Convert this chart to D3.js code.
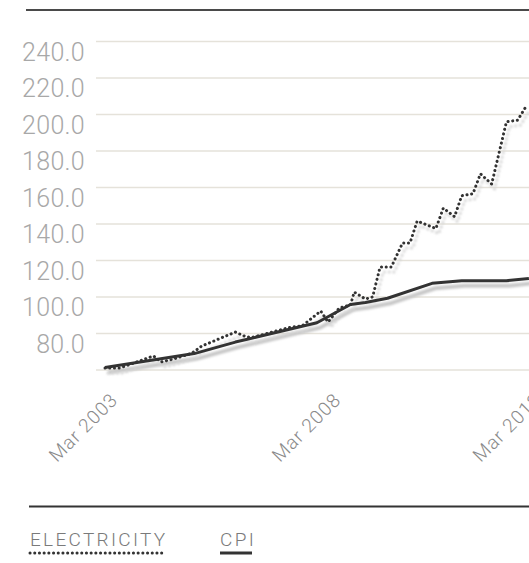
<!DOCTYPE html>
<html>
<head>
<meta charset="utf-8">
<title>Electricity vs CPI</title>
<style>
  body { margin: 0; background: #fff; }
  svg { display: block; font-family: Roboto, "Noto Sans", sans-serif; font-weight: 300; }
  .grid line { stroke: #e5e2da; stroke-width: 1.5px; }
  .ylab { fill: #a8a8a8; font-size: 25px; letter-spacing: 0.3px; }
  .xlab { fill: #8a8a8a; font-size: 19px; letter-spacing: 1px; }
  .leg { fill: #7a7a7a; font-size: 19px; letter-spacing: 2.3px; }
</style>
</head>
<body>
<svg id="chart"></svg>
<script src="https://d3js.org/d3.v7.min.js"></script>
<script>
// axis ticks (positions and labels as they sit on the chart)
const yTicks = [60, 80, 100, 120, 140, 160, 180, 200, 220, 240];
const xTickDates = ["2003-03", "2008-03", "2012-09"];
const xTickLabels = ["Mar 2003", "Mar 2008", "Mar 2013"];
const legendLabels = ["ELECTRICITY", "CPI"];

// electricity index
const elecDates = ["2003-03", "2003-07", "2004-04", "2004-06", "2004-09", "2005-02", "2005-03", "2005-05",
  "2006-02", "2006-05", "2006-07", "2007-05", "2007-08", "2008-01", "2008-03", "2008-06", "2008-09",
  "2008-10", "2009-01", "2009-03", "2009-05", "2009-08", "2009-11", "2010-01", "2010-03", "2010-08",
  "2010-10", "2011-01", "2011-03", "2011-06", "2011-08", "2011-11", "2012-03", "2012-06", "2012-08"];
const elecValues = [61.1, 61.1, 67.7, 64.4, 65.8, 69.0, 70.1, 73.1,
  80.8, 78.1, 78.1, 83.5, 84.1, 92.3, 86.3, 94.0, 95.6,
  102.7, 98.9, 100.0, 116.4, 116.4, 129.6, 129.6, 141.6, 137.5,
  148.7, 144.0, 155.5, 156.6, 167.5, 161.9, 196.0, 196.9, 203.6];

// CPI
const cpiDates = ["2003-03", "2005-03", "2006-02", "2007-12", "2008-09", "2009-01", "2009-07",
  "2010-07", "2011-03", "2012-03", "2012-09"];
const cpiValues = [61.4, 69.0, 75.3, 85.9, 95.9, 97.0, 99.3, 107.5, 108.9, 108.9, 110.2];

const W = 529, H = 563;
const parse = d3.timeParse("%Y-%m");

const svg = d3.select("#chart").attr("width", W).attr("height", H);

const x = d3.scaleTime()
  .domain([parse("2003-03"), parse("2013-03")])
  .range([105, 551]);
const y = d3.scaleLinear()
  .domain([60, 240])
  .range([370, 41.5]);

const defs = svg.append("defs");
defs.append("filter").attr("id", "blur")
  .attr("x", "-10%").attr("y", "-10%").attr("width", "120%").attr("height", "120%")
  .append("feGaussianBlur").attr("stdDeviation", 1.2);

// top rule
svg.append("line")
  .attr("x1", 26).attr("x2", W).attr("y1", 10).attr("y2", 10)
  .attr("stroke", "#4a4a4a").attr("stroke-width", 2);

// grid
svg.append("g").attr("class", "grid")
  .selectAll("line").data(yTicks).join("line")
  .attr("x1", 96).attr("x2", W)
  .attr("y1", d => y(d)).attr("y2", d => y(d));

// y labels hang under their grid line, bottom one has none
svg.append("g").selectAll("text").data(yTicks.filter(d => d > 60)).join("text")
  .attr("class", "ylab")
  .attr("text-anchor", "end")
  .attr("x", 85)
  .attr("y", d => y(d) + 19)
  .text(d => d.toFixed(1));

const elec = elecDates.map((d, i) => ({ date: parse(d), value: elecValues[i] }));
const cpi = cpiDates.map((d, i) => ({ date: parse(d), value: cpiValues[i] }));

const line = d3.line().x(d => x(d.date)).y(d => y(d.value));

// shadows
svg.append("path").datum(cpi)
  .attr("d", line).attr("fill", "none")
  .attr("stroke", "#c8c8c8").attr("stroke-width", 4)
  .attr("transform", "translate(3,5)")
  .attr("filter", "url(#blur)");
svg.append("path").datum(elec)
  .attr("d", line).attr("fill", "none")
  .attr("stroke", "#d6d6d6").attr("stroke-width", 3)
  .attr("stroke-linecap", "round").attr("stroke-dasharray", "0.1,4.6")
  .attr("transform", "translate(3,5)")
  .attr("filter", "url(#blur)");

// series
svg.append("path").datum(cpi)
  .attr("d", line).attr("fill", "none")
  .attr("stroke", "#333").attr("stroke-width", 3)
  .attr("stroke-linejoin", "round");
svg.append("path").datum(elec)
  .attr("d", line).attr("fill", "none")
  .attr("stroke", "#333").attr("stroke-width", 3)
  .attr("stroke-linecap", "round").attr("stroke-dasharray", "0.1,4.6");

// x labels
svg.append("g").selectAll("text").data(xTickDates.map(parse)).join("text")
  .attr("class", "xlab")
  .attr("text-anchor", "end")
  .attr("transform", d => `translate(${x(d) + 14},401) rotate(-45)`)
  .text((d, i) => xTickLabels[i]);

// bottom rule
svg.append("line")
  .attr("x1", 29).attr("x2", W).attr("y1", 506.5).attr("y2", 506.5)
  .attr("stroke", "#333").attr("stroke-width", 2);

// legend
const legX = [30, 220];
const leg = svg.append("g").selectAll("g").data(legendLabels).join("g")
  .attr("transform", (d, i) => `translate(${legX[i]},0)`);
leg.append("text").attr("class", "leg")
  .attr("x", 0).attr("y", 546)
  .text(d => d);
leg.each(function (d, i) {
  const g = d3.select(this);
  const w = i === 0 ? 132 : 32;
  const dash = i === 0 ? "0.1,4.6" : null;
  g.append("line").attr("x1", 3).attr("x2", w + 3).attr("y1", 559).attr("y2", 559)
    .attr("stroke", "#d0d0d0").attr("stroke-width", i === 0 ? 3 : 4)
    .attr("stroke-linecap", i === 0 ? "round" : "butt")
    .attr("stroke-dasharray", dash).attr("filter", "url(#blur)");
  g.append("line").attr("x1", 0).attr("x2", w).attr("y1", 553).attr("y2", 553)
    .attr("stroke", "#333").attr("stroke-width", 3)
    .attr("stroke-linecap", i === 0 ? "round" : "butt")
    .attr("stroke-dasharray", dash);
});
</script>
</body>
</html>
